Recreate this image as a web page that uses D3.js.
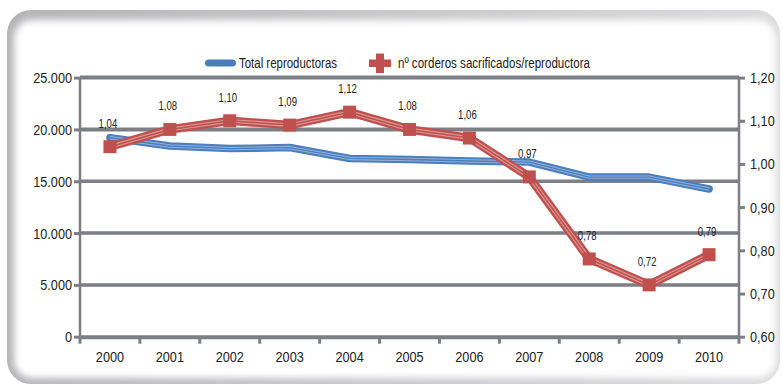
<!DOCTYPE html>
<html>
<head>
<meta charset="utf-8">
<script src="https://cdn.jsdelivr.net/npm/d3@7/dist/d3.min.js"></script>
<style>
  html, body { margin: 0; padding: 0; background: #ffffff; }
  svg text { font-family: "Liberation Sans", Arial, sans-serif; fill: #222; }
</style>
</head>
<body>
<svg id="chart" width="783" height="386"></svg>
<script>
// Years on the x axis
const years = ["2000","2001","2002","2003","2004","2005","2006","2007","2008","2009","2010"];
// Total reproductoras (left axis)
const totalReproductoras = [19200, 18400, 18150, 18250, 17200, 17100, 16950, 16850, 15400, 15400, 14250];
// nº corderos sacrificados por reproductora (right axis)
const corderosPorReproductora = [1.04, 1.08, 1.10, 1.09, 1.12, 1.08, 1.06, 0.97, 0.78, 0.72, 0.79];
// Axis tick values
const leftTicks = [0, 5000, 10000, 15000, 20000, 25000];
const rightTicks = [0.60, 0.70, 0.80, 0.90, 1.00, 1.10, 1.20];
const seriesNames = ["Total reproductoras", "nº corderos sacrificados/reproductora"];

const svg = d3.select("#chart");
const W = 783, H = 386;
const m = { left: 80, right: 739, top: 77.6, bottom: 336.7 };

// Narrow the text horizontally (condensed look)
function condense(sel, s) {
  sel.each(function () {
    const t = d3.select(this);
    const x0 = +t.attr("x") || 0;
    t.attr("x", x0 / s).attr("transform", `scale(${s},1)`);
  });
}

// Card background with soft edges
const defs = svg.append("defs");
defs.append("filter").attr("id", "soft").attr("x", "-5%").attr("y", "-5%").attr("width", "110%").attr("height", "110%")
  .append("feGaussianBlur").attr("stdDeviation", 3.5);
const edge = defs.append("linearGradient").attr("id", "edge").attr("x1", 0).attr("x2", 1).attr("y1", 0).attr("y2", 0);
edge.append("stop").attr("offset", "0%").attr("stop-color", "#b4b4b7");
edge.append("stop").attr("offset", "100%").attr("stop-color", "#dcdcde");
svg.append("rect").attr("x", 0).attr("y", 0).attr("width", W).attr("height", H).attr("fill", "#fff");
svg.append("rect").attr("x", 7).attr("y", 10).attr("width", 773).attr("height", 374).attr("rx", 24)
  .attr("fill", "url(#edge)");
svg.append("rect").attr("x", 14).attr("y", 20).attr("width", 762).attr("height", 358).attr("rx", 18)
  .attr("fill", "#fff").attr("filter", "url(#soft)");

const x = d3.scaleBand().domain(years).range([m.left, m.right]);
const yL = d3.scaleLinear().domain([0, 25000]).range([m.bottom, m.top]);
const yR = d3.scaleLinear().domain([0.6, 1.2]).range([m.bottom, m.top]);

const gray = "#7d7e86";
const fmtL = d => d3.format(",")(d).replace(/,/g, ".");
const fmtR = d => d3.format(".2f")(d).replace(".", ",");

// Horizontal grid lines at the left-axis ticks
svg.append("g").selectAll("line").data(leftTicks.filter(d => d > 0)).join("line")
  .attr("x1", m.left).attr("x2", m.right)
  .attr("y1", d => yL(d)).attr("y2", d => yL(d))
  .attr("stroke", gray).attr("stroke-width", d => d >= 20000 ? 4 : 3.5);

// Left axis
const gL = svg.append("g").attr("transform", `translate(${m.left},0)`)
  .call(d3.axisLeft(yL).tickValues(leftTicks).tickFormat(fmtL).tickSize(6).tickPadding(2));
// Right axis
const gR = svg.append("g").attr("transform", `translate(${m.right},0)`)
  .call(d3.axisRight(yR).tickValues(rightTicks).tickFormat(fmtR).tickSize(6).tickPadding(5));
// Bottom axis: ticks at category boundaries
const gB = svg.append("g").attr("transform", `translate(0,${m.bottom})`)
  .call(d3.axisBottom(x).tickSize(0).tickPadding(14));
gB.append("g").selectAll("line").data(d3.range(years.length + 1)).join("line")
  .attr("x1", i => m.left + i * x.step()).attr("x2", i => m.left + i * x.step())
  .attr("y1", 0).attr("y2", 7).attr("stroke", gray).attr("stroke-width", 3);

[gL, gR, gB].forEach(g => {
  g.select(".domain").attr("stroke", gray).attr("stroke-width", 2.5);
  g.selectAll(".tick line").attr("stroke", gray).attr("stroke-width", 3);
  g.selectAll(".tick text").style("font-size", "15.5px").attr("fill", "#1e1e1e");
  condense(g.selectAll(".tick text"), 0.82);
});
gL.select(".domain").attr("d", `M0,${m.top}V${m.bottom}`);
gR.select(".domain").attr("d", `M0,${m.top}V${m.bottom}`);
gB.select(".domain").attr("stroke-width", 4);
gB.selectAll(".tick text").attr("dy", "0.71em");

const cx = d => x(d) + x.bandwidth() / 2;

// Ribbon-style line: thick base stroke with light inner stripes
function ribbon(values, yScale, color, light, width) {
  const line = d3.line().x((d, i) => cx(years[i])).y(d => yScale(d));
  const g = svg.append("g");
  g.append("path").attr("d", line(values)).attr("fill", "none")
    .attr("stroke", color).attr("stroke-width", width).attr("stroke-linejoin", "round").attr("stroke-linecap", "round");
  g.append("path").attr("d", line(values)).attr("fill", "none")
    .attr("stroke", light).attr("stroke-width", width * 0.45).attr("stroke-linejoin", "round").attr("stroke-opacity", 0.4);
  g.append("path").attr("d", line(values)).attr("fill", "none")
    .attr("stroke", color).attr("stroke-width", width * 0.18).attr("stroke-linejoin", "round");
  return g;
}

const blue = "#4a7ebf", red = "#c0504d";
ribbon(totalReproductoras, yL, blue, "#ffffff", 7.5);
ribbon(corderosPorReproductora, yR, red, "#ffffff", 8.5);

// Square markers on the ratio series
const sq = 13;
svg.append("g").selectAll("rect").data(corderosPorReproductora).join("rect")
  .attr("x", (d, i) => cx(years[i]) - sq / 2).attr("y", d => yR(d) - sq / 2)
  .attr("width", sq).attr("height", sq).attr("fill", red);

// Value labels above the markers
const vl = svg.append("g").selectAll("text").data(corderosPorReproductora).join("text")
  .attr("x", (d, i) => cx(years[i]) - 2).attr("y", d => yR(d) - 19)
  .attr("text-anchor", "middle").style("font-size", "13px").attr("fill", "#222")
  .text(d => fmtR(d));
condense(vl, 0.74);

// Legend
const lg = svg.append("g");
lg.append("rect").attr("x", 205).attr("y", 59.5).attr("width", 31).attr("height", 7).attr("rx", 3.5).attr("fill", blue);
lg.append("text").attr("x", 239).attr("y", 68).style("font-size", "14px")
  .attr("textLength", 98).attr("lengthAdjust", "spacingAndGlyphs").text(seriesNames[0]);
lg.append("path")
  .attr("d", "M369,59.5h7v-6h8v6h7v7.5h-7v6h-8v-6h-7z")
  .attr("fill", red);
lg.append("text").attr("x", 398).attr("y", 68).style("font-size", "14px")
  .attr("textLength", 192).attr("lengthAdjust", "spacingAndGlyphs").text(seriesNames[1]);
</script>
</body>
</html>
